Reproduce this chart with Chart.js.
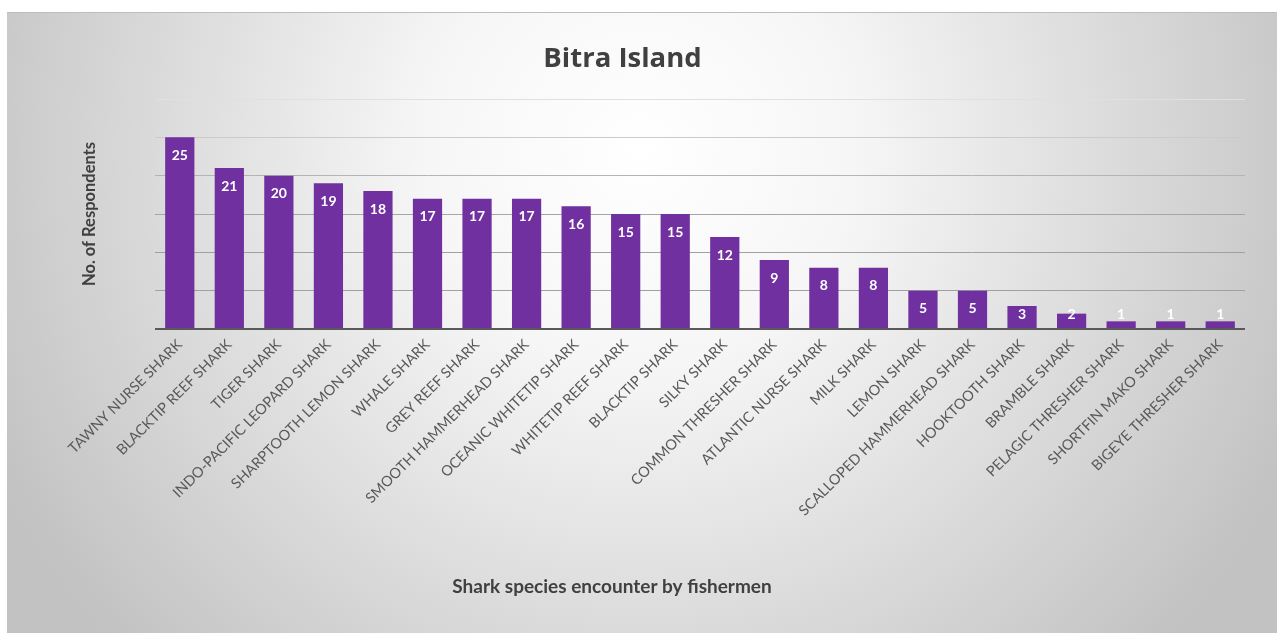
<!DOCTYPE html>
<html>
<head>
<meta charset="utf-8">
<title>Bitra Island</title>
<script src="https://cdn.jsdelivr.net/npm/chart.js@4/dist/chart.umd.min.js"></script>
<style>
  html, body { margin: 0; padding: 0; background: #fff; }
  #wrap { width: 1277px; height: 633px; }
</style>
</head>
<body>
<div id="wrap"><canvas id="sharkChart"></canvas></div>
<script>
// shark species reported by fishermen, Bitra Island
const species = [
  'TAWNY NURSE SHARK', 'BLACKTIP REEF SHARK', 'TIGER SHARK', 'INDO-PACIFIC LEOPARD SHARK',
  'SHARPTOOTH LEMON SHARK', 'WHALE SHARK', 'GREY REEF SHARK', 'SMOOTH HAMMERHEAD SHARK',
  'OCEANIC WHITETIP SHARK', 'WHITETIP REEF SHARK', 'BLACKTIP SHARK', 'SILKY SHARK',
  'COMMON THRESHER SHARK', 'ATLANTIC NURSE SHARK', 'MILK SHARK', 'LEMON SHARK',
  'SCALLOPED HAMMERHEAD SHARK', 'HOOKTOOTH SHARK', 'BRAMBLE SHARK', 'PELAGIC THRESHER SHARK',
  'SHORTFIN MAKO SHARK', 'BIGEYE THRESHER SHARK'
];
const respondents = [25, 21, 20, 19, 18, 17, 17, 17, 16, 15, 15, 12, 9, 8, 8, 5, 5, 3, 2, 1, 1, 1];
const yTicks = [0, 5, 10, 15, 20, 25, 30];
const xCaption = 'Shark species encounter by fishermen';

const FONT = 'Lato, "Open Sans", sans-serif';
const PURPLE = '#7030a0';

// soft grey panel behind the chart, white in the upper middle
const panelBackground = {
  id: 'panelBackground',
  beforeDraw(chart) {
    const { ctx, width, height } = chart;
    ctx.save();
    const g = ctx.createRadialGradient(640, 150, 0, 640, 150, 720);
    g.addColorStop(0, '#ffffff');
    g.addColorStop(0.3, '#f6f6f6');
    g.addColorStop(1, '#c2c2c2');
    ctx.fillStyle = g;
    ctx.fillRect(7, 12, width - 7, height - 12);
    ctx.fillStyle = '#bdbdbd';
    ctx.fillRect(7, 12, width - 7, 1);
    ctx.restore();
  }
};

// white value printed just inside the top of each bar
const barValues = {
  id: 'barValues',
  afterDatasetsDraw(chart) {
    const { ctx } = chart;
    const meta = chart.getDatasetMeta(0);
    const base = chart.scales.y.getPixelForValue(0);
    ctx.save();
    ctx.font = 'bold 14px ' + FONT;
    ctx.fillStyle = '#ffffff';
    ctx.textAlign = 'center';
    ctx.textBaseline = 'middle';
    meta.data.forEach((bar, i) => {
      const y = Math.min(bar.y + 18, base - 15);
      ctx.fillText(String(respondents[i]), bar.x, y);
    });
    ctx.restore();
  }
};

// category axis caption, centred under the whole panel
const xAxisCaption = {
  id: 'xAxisCaption',
  afterDraw(chart) {
    const { ctx } = chart;
    ctx.save();
    ctx.font = 'bold 19px ' + FONT;
    ctx.fillStyle = '#404040';
    ctx.textAlign = 'center';
    ctx.textBaseline = 'middle';
    ctx.fillText(xCaption, 612, 587);
    ctx.restore();
  }
};

const gridShade = { 0: '#595959', 5: '#a0a0a0', 10: '#a0a0a0', 15: '#a6a6a6', 20: '#b4b4b4', 25: '#cbcbcb', 30: '#e0e0e0' };

new Chart(document.getElementById('sharkChart').getContext('2d'), {
  type: 'bar',
  data: {
    labels: species,
    datasets: [{
      data: respondents,
      backgroundColor: PURPLE,
      borderWidth: 0,
      barPercentage: 0.59,
      categoryPercentage: 1
    }]
  },
  options: {
    responsive: true,
    maintainAspectRatio: false,
    animation: false,
    layout: { padding: { left: 0, right: 32, top: 0, bottom: 0 } },
    plugins: {
      legend: { display: false },
      tooltip: { enabled: false },
      title: {
        display: true,
        text: 'Bitra Island',
        color: '#404040',
        font: { family: '"Open Sans", Lato, sans-serif', size: 27.5, weight: 'bold' },
        padding: { top: 43, bottom: 23 }
      }
    },
    scales: {
      x: {
        grid: { display: false, drawTicks: false },
        border: { display: false },
        ticks: {
          color: '#595959',
          font: { family: FONT, size: 14.5 },
          minRotation: 45,
          maxRotation: 45,
          autoSkip: false,
          padding: 7
        },
        afterFit(scale) { scale.height = 304; }
      },
      y: {
        min: 0,
        max: 30,
        afterBuildTicks(scale) { scale.ticks = yTicks.map(v => ({ value: v })); },
        ticks: { display: false },
        grid: {
          drawTicks: false,
          color: ctx => gridShade[ctx.tick.value] || '#bbbbbb',
          lineWidth: ctx => (ctx.tick.value === 0 ? 2 : 1)
        },
        border: { display: false },
        title: {
          display: true,
          text: 'No. of Respondents',
          color: '#404040',
          font: { family: FONT, size: 16.5, weight: 'bold' },
          padding: { top: 80, bottom: 0 }
        },
        afterFit(scale) { scale.width = 155; }
      }
    }
  },
  plugins: [panelBackground, barValues, xAxisCaption]
});
</script>
</body>
</html>
